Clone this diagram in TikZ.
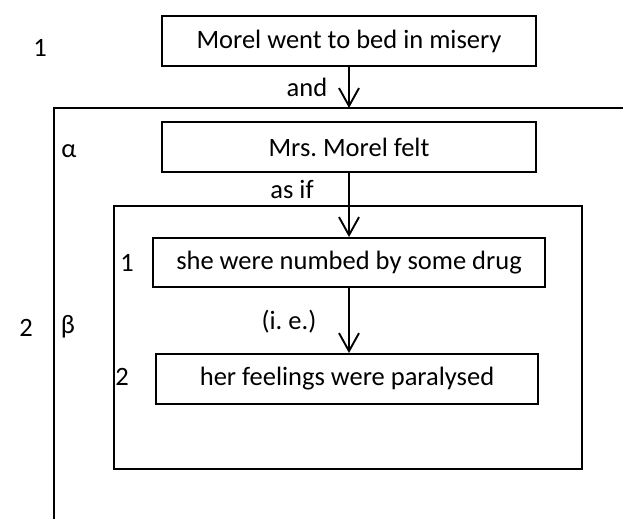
\documentclass[tikz,border=0pt]{standalone}
\usepackage{fontspec}
\setmainfont{Carlito}
\usetikzlibrary{arrows.meta}
\begin{document}
\frenchspacing
\begin{tikzpicture}[x=1pt,y=-1pt,
  every node/.style={font=\fontsize{26.5}{30}\selectfont},
  box/.style={draw,line width=1.9pt,inner sep=0pt,align=center},
  lbl/.style={inner sep=0pt},
  rule/.style={line width=1.9pt},
  arr/.style={line width=1.9pt,-{Straight Barb[length=18pt,width=20pt,line width=1.9pt]}}]
\useasboundingbox (0,0) rectangle (623,519);

% frame of the second clause
\coordinate (otop) at (54,108);
\coordinate (oright) at (623,108);
\coordinate (obot) at (54,519);
\draw[rule] (oright) -- (otop) -- (obot);

% frame of the beta clause complex
\node[box,minimum width=468pt,minimum height=263pt] (inner) at (348,337.5) {};

% clause boxes
\node[box,minimum width=374pt,minimum height=50pt] (b1) at (349,41) {Morel went to bed in misery};
\node[box,minimum width=374pt,minimum height=50pt] (b2) at (349,147) {Mrs. Morel felt};
\node[box,minimum width=392pt,minimum height=49pt] (b3) at (349,262.5) {she were numbed by some drug};
\node[box,minimum width=382pt,minimum height=50pt] (b4) at (347,379) {her feelings were paralysed};

% links
\draw[arr] (b1.south) -- (b1.south |- otop);
\draw[arr] (b2.south) -- (b2.south |- b3.north);
\draw[arr] (b3.south) -- (b3.south |- b4.north);

% conjunctions
\node[lbl] (and) at (307,87) {and};
\node[lbl] (asif) at (292,189) {as if};
\node[lbl] (ie) at (289,322) {(i. e.)};

% clause numbering
\node[lbl] (n1) at (40,48) {1};
\node[lbl] (n2) at (26,328) {2};
\node[lbl] (al) at (69,151) {α};
\node[lbl] (be) at (68,327) {β};
\node[lbl] (i1) at (127,263) {1};
\node[lbl] (i2) at (122,377) {2};
\end{tikzpicture}
\end{document}
